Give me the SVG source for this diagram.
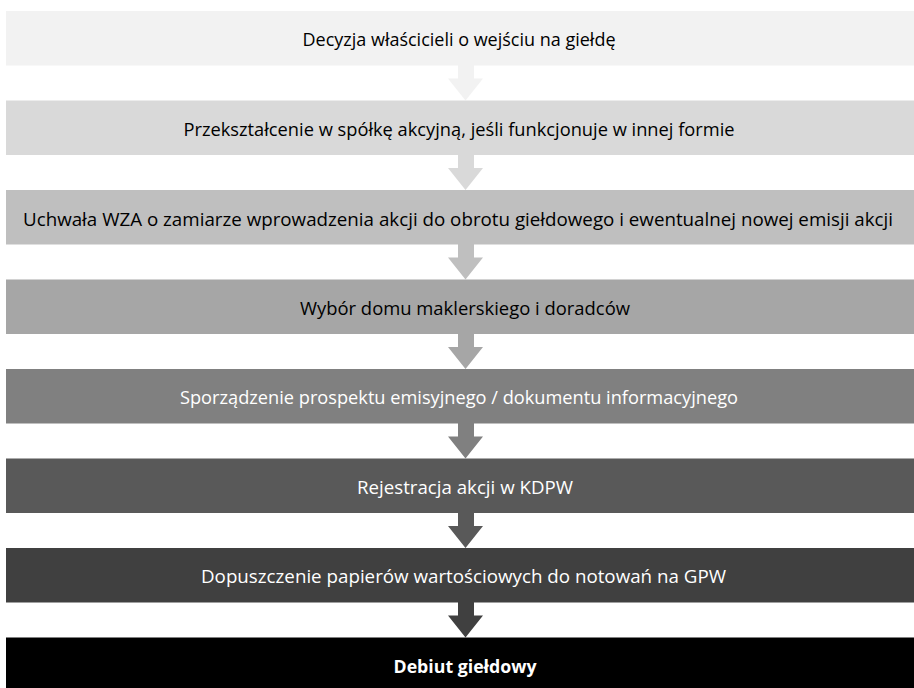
<svg xmlns="http://www.w3.org/2000/svg" width="914" height="688" viewBox="0 0 914 688">
<style>
text{font-family:"Liberation Sans Narrow","Open Sans","Liberation Sans",sans-serif;font-size:17.5px;text-anchor:middle}
.d{fill:#000}
.l{fill:#fff}
.b{font-weight:bold}
</style>
<rect width="914" height="688" fill="#fff"/>
<g id="connectors">
<polygon fill="#f2f2f2" points="458,65 474,65 474,78.5 483,78.5 465.5,100.5 448,78.5 458,78.5"/>
<polygon fill="#d9d9d9" points="458,154.5 474,154.5 474,168 483,168 465.5,190 448,168 458,168"/>
<polygon fill="#bfbfbf" points="458,244 474,244 474,257.5 483,257.5 465.5,279.5 448,257.5 458,257.5"/>
<polygon fill="#a6a6a6" points="458,333.5 474,333.5 474,347 483,347 465.5,369 448,347 458,347"/>
<polygon fill="#808080" points="458,423 474,423 474,436.5 483,436.5 465.5,458.5 448,436.5 458,436.5"/>
<polygon fill="#595959" points="458,512.5 474,512.5 474,526 483,526 465.5,548 448,526 458,526"/>
<polygon fill="#404040" points="458,602 474,602 474,615.5 483,615.5 465.5,637.5 448,615.5 458,615.5"/>
</g>
<g id="n1"><rect x="6" y="11" width="908" height="54.5" fill="#f2f2f2"/><text class="d" x="459" y="46" textLength="313" lengthAdjust="spacingAndGlyphs">Decyzja właścicieli o wejściu na giełdę</text></g>
<g id="n2"><rect x="6" y="100.5" width="908" height="54.5" fill="#d9d9d9"/><text class="d" x="459" y="135.5" textLength="551" lengthAdjust="spacingAndGlyphs">Przekształcenie w spółkę akcyjną, jeśli funkcjonuje w innej formie</text></g>
<g id="n3"><rect x="6" y="190" width="908" height="54.5" fill="#bfbfbf"/><text class="d" x="458" y="226" textLength="870" lengthAdjust="spacingAndGlyphs">Uchwała WZA o zamiarze wprowadzenia akcji do obrotu giełdowego i ewentualnej nowej emisji akcji</text></g>
<g id="n4"><rect x="6" y="279.5" width="908" height="54.5" fill="#a6a6a6"/><text class="d" x="465" y="314.5" textLength="330" lengthAdjust="spacingAndGlyphs">Wybór domu maklerskiego i doradców</text></g>
<g id="n5"><rect x="6" y="369" width="908" height="54.5" fill="#808080"/><text class="l" x="459" y="404" textLength="558" lengthAdjust="spacingAndGlyphs">Sporządzenie prospektu emisyjnego / dokumentu informacyjnego</text></g>
<g id="n6"><rect x="6" y="458.5" width="908" height="54.5" fill="#595959"/><text class="l" x="465" y="493.5" textLength="216" lengthAdjust="spacingAndGlyphs">Rejestracja akcji w KDPW</text></g>
<g id="n7"><rect x="6" y="548" width="908" height="54.5" fill="#404040"/><text class="l" x="463.5" y="583" textLength="525" lengthAdjust="spacingAndGlyphs">Dopuszczenie papierów wartościowych do notowań na GPW</text></g>
<g id="n8"><rect x="6" y="637.5" width="908" height="54.5" fill="#000"/><text class="l b" x="465" y="672.5" textLength="143" lengthAdjust="spacingAndGlyphs">Debiut giełdowy</text></g>
</svg>
